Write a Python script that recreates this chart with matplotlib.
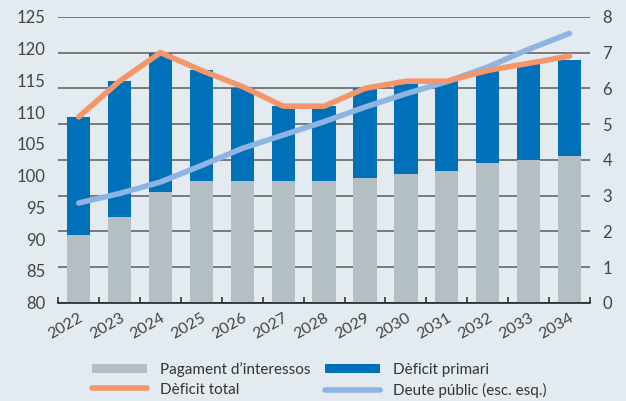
import matplotlib
matplotlib.use("Agg")
import matplotlib.pyplot as plt
import numpy as np

years = ["2022", "2023", "2024", "2025", "2026", "2027", "2028",
         "2029", "2030", "2031", "2032", "2033", "2034"]
interessos = [1.9, 2.4, 3.1, 3.4, 3.4, 3.4, 3.4, 3.5, 3.6, 3.7, 3.9, 4.0, 4.1]
deficit_total_bar = [5.2, 6.2, 7.0, 6.5, 6.0, 5.5, 5.5, 6.0, 6.15, 6.2, 6.5, 6.7, 6.8]
primari = [t - i for t, i in zip(deficit_total_bar, interessos)]
deficit_total = [5.2, 6.2, 7.0, 6.5, 6.05, 5.5, 5.5, 6.0, 6.2, 6.2, 6.5, 6.7, 6.9]
deute = [95.7, 97.2, 99.0, 101.6, 104.3, 106.4, 108.5, 110.8, 112.9, 114.8, 117.1, 119.9, 122.4]

left_ticks = list(range(80, 126, 5))
right_ticks = list(range(0, 9))

BG = "#e3ebf0"
GREY = "#b4bfc4"
BLUE = "#0071b9"
ORANGE = "#f4956a"
LBLUE = "#8db4e2"
TXT = "#444444"

plt.rcParams['font.family'] = ['Lato', 'DejaVu Sans']

fig = plt.figure(figsize=(6.26, 4.01), dpi=100, facecolor=BG)
axb = fig.add_axes([0.093, 0.245, 0.8495, 0.713])
axd = axb.twinx()
axt = axb.twinx()
axb.set_facecolor(BG)
x = np.arange(len(years))

# bars on right scale
axb.bar(x, interessos, width=0.57, color=GREY, label="Pagament d\u2019interessos", zorder=2)
axb.bar(x, primari, bottom=interessos, width=0.57, color=BLUE, label="Dèficit primari", zorder=2)
axb.set_ylim(0, 8)
axb.set_xlim(-0.5, len(years) - 0.5)
axb.set_yticks(right_ticks)
axb.set_axisbelow(True)
axb.grid(axis='y', color="#6f6f6f", lw=1.3)
for s in ['top', 'left', 'right']:
    axb.spines[s].set_visible(False)
axb.spines['bottom'].set_color("#222222")
axb.spines['bottom'].set_linewidth(1.2)
axb.set_xticks(x)
axb.set_xticklabels(years, rotation=30, ha='right', va='top', rotation_mode='anchor',
                    fontsize=11.5, color=TXT)
axb.tick_params(axis='x', which='major', length=0, pad=6)
axb.set_xticks(np.arange(-0.5, len(years), 1), minor=True)
axb.tick_params(axis='x', which='minor', direction='in', length=4, width=1.1, color="#222222")

# debt line on left scale
axd.set_zorder(axb.get_zorder() + 1)
axd.patch.set_visible(False)
axd.set_ylim(80, 125)
axd.set_yticks(left_ticks)
for s in axd.spines.values():
    s.set_visible(False)
ld, = axd.plot(x, deute, color=LBLUE, lw=4, solid_capstyle='round', label="Deute públic (esc. esq.)")

# total deficit on right scale, on top
axt.set_zorder(axd.get_zorder() + 1)
axt.patch.set_visible(False)
axt.set_ylim(0, 8)
axt.set_yticks([])
axt.tick_params(left=False, right=False, labelleft=False, labelright=False)
for s in axt.spines.values():
    s.set_visible(False)
lt, = axt.plot(x, deficit_total, color=ORANGE, lw=4, solid_capstyle='round', label="Dèficit total")

axb.yaxis.tick_right()
axb.tick_params(axis='y', left=False, labelleft=False, length=0, pad=9,
                labelsize=12, labelcolor=TXT)
axd.yaxis.tick_left()
axd.tick_params(axis='y', right=False, labelright=False, length=0, pad=9,
                labelsize=12, labelcolor=TXT)

hb, lb = axb.get_legend_handles_labels()
handles = [hb[0], lt, hb[1], ld]
labels = [lb[0], "Dèficit total", lb[1], "Deute públic (esc. esq.)"]
leg = fig.legend(handles, labels, ncol=2, loc='center', bbox_to_anchor=(0.51, 0.053),
                 frameon=False, fontsize=11, handlelength=3.6, handleheight=0.6,
                 labelspacing=0.38, columnspacing=1.0, handletextpad=0.8, labelcolor="#333333")

fig.savefig("out.png", dpi=100, facecolor=BG)
